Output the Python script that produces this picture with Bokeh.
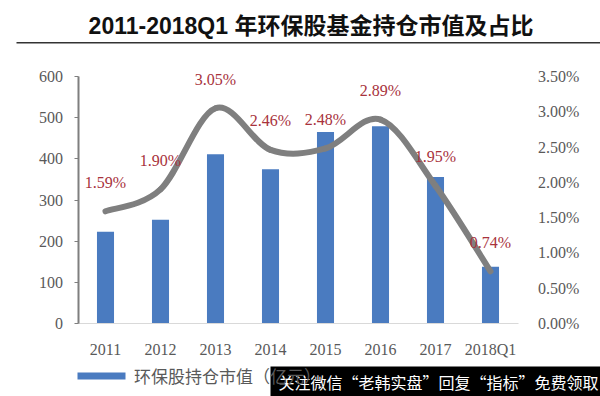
from bokeh.plotting import figure
from bokeh.models import (Range1d, LinearAxis, FixedTicker, PrintfTickFormatter,
                          CustomJSTickFormatter, Label, BoxAnnotation, Legend, LegendItem)
from bokeh.core.properties import value
from bokeh.embed import file_html
from bokeh.resources import INLINE

# ---------------- data ----------------
categories = ["2011", "2012", "2013", "2014", "2015", "2016", "2017", "2018Q1"]
holding_value = [223, 252, 411, 375, 465, 479, 356, 138]          # 环保股持仓市值（亿元）
holding_share_pct = [1.59, 1.90, 3.05, 2.46, 2.48, 2.89, 1.95, 0.74]  # 占比 (%)
left_ticks = [0, 100, 200, 300, 400, 500, 600]
right_ticks = [0.0, 0.5, 1.0, 1.5, 2.0, 2.5, 3.0, 3.5]
title_text = "2011-2018Q1 年环保股基金持仓市值及占比"
legend_bar_label = "环保股持仓市值（亿元）"
watermark_text = "关注微信“老韩实盘”回复“指标”免费领取"

# ---------------- styles / layout constants ----------------
BAR = "#4A7BC0"
LINE = "#7F7F7F"
RED = "#A8323C"
GREY_TXT = "#595959"
SERIF = "Liberation Serif"
W, H = 600, 396
PLOT_L, CAT_W = 77.5, 55.0                    # px: left edge of category area, category width
ZERO_Y, PX_PER_UNIT = 323.0, 247.0 / 600.0    # px: baseline from top, px per left-axis unit
PCT_PER_UNIT = 3.5 / 600.0

n = len(categories)
xs = [i + 0.5 for i in range(n)]   # category centres on a numeric axis

x_lo, x_hi = -PLOT_L / CAT_W, (W - PLOT_L) / CAT_W
y_lo, y_hi = -(H - ZERO_Y) / PX_PER_UNIT, ZERO_Y / PX_PER_UNIT

p = figure(width=W, height=H,
           x_range=Range1d(x_lo, x_hi), y_range=Range1d(y_lo, y_hi),
           x_axis_location=None, y_axis_location=None,
           output_backend="svg", toolbar_location=None, min_border=0)
p.extra_y_ranges = {"pct": Range1d(y_lo * PCT_PER_UNIT, y_hi * PCT_PER_UNIT)}
p.grid.visible = False
p.outline_line_color = None

r_bar = p.vbar(x=xs, top=holding_value, width=0.31, fill_color=BAR, line_color=None)

# smoothed line (Catmull-Rom -> cubic Bezier, computed from the series)
ys = holding_share_pct
x0, y0, x1, y1, cx0, cy0, cx1, cy1 = [], [], [], [], [], [], [], []
for i in range(n - 1):
    im1 = max(i - 1, 0)
    ip2 = min(i + 2, n - 1)
    x0.append(xs[i]); y0.append(ys[i])
    x1.append(xs[i + 1]); y1.append(ys[i + 1])
    cx0.append(xs[i] + (xs[i + 1] - xs[im1]) / 6)
    cy0.append(ys[i] + (ys[i + 1] - ys[im1]) / 6)
    cx1.append(xs[i + 1] - (xs[ip2] - xs[i]) / 6)
    cy1.append(ys[i + 1] - (ys[ip2] - ys[i]) / 6)
p.bezier(x0=x0, y0=y0, x1=x1, y1=y1, cx0=cx0, cy0=cy0, cx1=cx1, cy1=cy1,
         y_range_name="pct", line_color=LINE, line_width=6, line_cap="round")

p.text(x=xs, y=holding_share_pct,
       text=[f"{v:.2f}%" for v in holding_share_pct],
       y_range_name="pct", text_align="center", text_baseline="middle",
       y_offset=-29, text_font=value(SERIF), text_font_size="16px", text_color=RED)

# ---------------- axes (fixed inside the full-canvas frame) ----------------
ya = LinearAxis(ticker=FixedTicker(ticks=left_ticks), fixed_location=0,
                bounds=(0, 600))
ya.axis_line_color = LINE
ya.axis_line_width = 2
ya.major_tick_line_color = LINE
ya.major_tick_out = 4
ya.major_tick_in = 0
ya.minor_tick_line_color = None
ya.major_label_standoff = 11
ya.major_label_text_font = SERIF
ya.major_label_text_font_size = "16px"
ya.major_label_text_color = GREY_TXT
p.add_layout(ya, "left")

xa = LinearAxis(ticker=FixedTicker(ticks=xs), fixed_location=0, bounds=(0, n),
                formatter=CustomJSTickFormatter(args=dict(labels=categories),
                                                code="return labels[Math.floor(tick)];"))
xa.axis_line_color = "#D9D9D9"
xa.major_tick_line_color = None
xa.minor_tick_line_color = None
xa.major_label_standoff = 11
xa.major_label_text_font = SERIF
xa.major_label_text_font_size = "16px"
xa.major_label_text_color = GREY_TXT
p.add_layout(xa, "below")

ra = LinearAxis(y_range_name="pct", ticker=FixedTicker(ticks=right_ticks),
                formatter=PrintfTickFormatter(format="%.2f%%"),
                fixed_location=n, bounds=(0, 3.5))
ra.axis_line_color = None
ra.major_tick_line_color = None
ra.minor_tick_line_color = None
ra.major_label_standoff = 14
ra.major_label_text_font = SERIF
ra.major_label_text_font_size = "16px"
ra.major_label_text_color = GREY_TXT
p.add_layout(ra, "right")

# ---------------- title and rule ----------------
p.add_layout(Label(x=310.5, y=H - 25, x_units="screen", y_units="screen", text=title_text,
                   text_align="center", text_baseline="middle",
                   text_font="Liberation Sans, Noto Sans CJK SC", text_font_style="bold",
                   text_font_size="23px", text_color="#111111"))
p.add_layout(BoxAnnotation(left=16, right=W + 20, top=H - 41.5, bottom=H - 43,
                           left_units="screen", right_units="screen",
                           top_units="screen", bottom_units="screen",
                           fill_color="#333333", fill_alpha=1, line_color=None))

# ---------------- legend ----------------
legend = Legend(items=[LegendItem(label=legend_bar_label, renderers=[r_bar])],
                location=(71, 8), orientation="horizontal",
                glyph_width=60, glyph_height=9, label_height=18, label_standoff=3,
                padding=0, margin=0, spacing=0,
                border_line_color=None, background_fill_alpha=0,
                label_text_font="Noto Sans CJK SC", label_text_font_size="17px",
                label_text_color=GREY_TXT)
p.add_layout(legend)

# ---------------- watermark overlay ----------------
p.add_layout(BoxAnnotation(left=270, right=W + 20, top=H - 366, bottom=-10,
                           left_units="screen", right_units="screen",
                           top_units="screen", bottom_units="screen",
                           fill_color="black", fill_alpha=1, line_color=None, level="overlay"))
p.add_layout(Label(x=278, y=H - 381, x_units="screen", y_units="screen", text=watermark_text,
                   text_align="left", text_baseline="middle",
                   text_font="Noto Sans CJK SC", text_font_size="16px",
                   text_color="white", level="overlay"))

open("out.html", "w").write(file_html(p, INLINE))
